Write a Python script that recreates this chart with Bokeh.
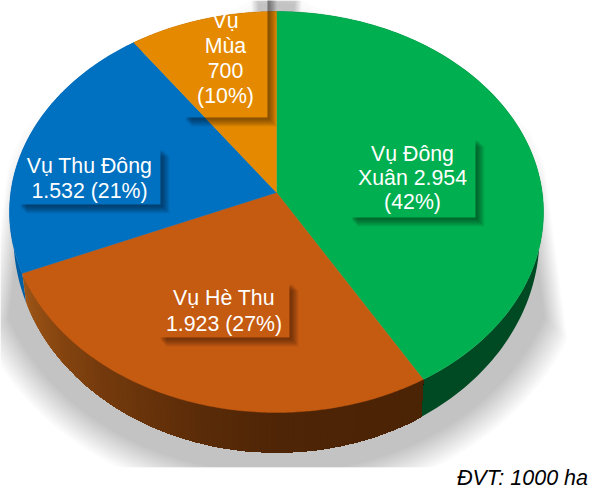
import numpy as np
from bokeh.plotting import figure
from bokeh.models import Range1d
from bokeh.core.properties import value
from bokeh.embed import file_html
from bokeh.resources import INLINE

# ---- data ----
seasons = ["Vụ Đông Xuân", "Vụ Hè Thu", "Vụ Thu Đông", "Vụ Mùa"]
areas = [2954, 1923, 1532, 700]
percents = [42, 27, 21, 10]
label_lines = [
    ["Vụ Đông", "Xuân 2.954", "(42%)"],
    ["Vụ Hè Thu", "1.923 (27%)"],
    ["Vụ Thu Đông", "1.532 (21%)"],
    ["Vụ", "Mùa", "700", "(10%)"],
]
unit_note = "ĐVT: 1000 ha"

# ---- styling ----
top_colors = ["#00B050", "#C55A11", "#0070C0", "#E58A00"]
FONT = "Liberation Sans"
FS = "21.3px"

# pie geometry (perspective ellipse)
CX, CY, RX, RY = 276.0, 211.5, 267.0, 200.5
BCY, BRX, BRY = 236.0, 263.0, 216.0
APEX = -19.5                 # screen offset of pie centre from ellipse centre
PC = -2 * APEX / (2 * RY)


def project(theta):
    sx, sy = np.sin(theta), np.cos(theta)
    den = 1 + PC * sy
    return RX * np.sqrt(1 - PC ** 2) * sx / den, (-RY * sy + APEX) / den


def top_pts(theta):
    u, v = project(theta)
    return CX + u, CY + v


def bottom_pts(theta):
    u, v = project(theta)
    return CX + u * BRX / RX, BCY + v * BRY / RY


p = figure(width=591, height=490, x_range=Range1d(0, 591), y_range=Range1d(490, 0),
           output_backend="svg", toolbar_location=None, min_border=0,
           outline_line_color=None)
p.xaxis.visible = False
p.yaxis.visible = False
p.grid.visible = False
p.background_fill_color = "white"
p.border_fill_color = "white"

# ---- soft ground shadow (stacked translucent ellipses, clipped) ----
phi = np.linspace(0, 2 * np.pi, 361)
clip_y = np.array([0, 100, 130, 163, 317, 490])
clip_x = np.array([300, 495, 527, 542, 562, 585]) - CX
layers = np.linspace(15, -15, 20)
alpha = 1 - 0.80 ** (1 / len(layers))
for k, d in enumerate(layers):
    sx = CX + (300 + d) * np.sin(phi)
    sy = 238 - (250 + d) * np.cos(phi)
    sy = np.minimum(sy, 467)
    frac = k / (len(layers) - 1)
    lim = np.interp(sy - 90 * frac, clip_y, clip_x) + 2 - 8 * frac
    sx = np.clip(sx, CX - lim, CX + lim)
    p.patch(sx, sy, fill_color="black", fill_alpha=alpha, line_color=None)

# ---- slices ----
total = sum(areas)
edges = np.concatenate([[0], np.cumsum(areas)]) / total * 2 * np.pi


def mix(x, stops_x, stops_c):
    return "#%02x%02x%02x" % tuple(int(round(np.interp(x, stops_x, [c[i] for c in stops_c]))) for i in range(3))


wall_stops = [
    ([0, 600], [(0, 74, 35), (0, 74, 35)]),
    ([22, 30, 60, 100, 150, 200, 276, 421],
     [(160, 86, 24), (150, 80, 20), (132, 68, 16), (116, 58, 13), (102, 50, 10), (90, 43, 8), (78, 37, 6), (75, 35, 5)]),
    ([0, 600], [(0, 95, 165), (0, 95, 165)]),
    ([0, 600], [(120, 70, 0), (120, 70, 0)]),
]

# painter's order, every strip reaches under the next one so no seams show
for i in [3, 2, 0]:
    th = np.linspace(edges[i], edges[i + 1], 120)
    xa, ya = top_pts(th)
    xb, yb = bottom_pts(th[::-1])
    p.patch(np.r_[xa, xb], np.r_[ya, yb], fill_color=mix(300, *wall_stops[i]), line_color=None)

i = 1
n = 90
th = np.linspace(edges[i], edges[i + 1], n + 1)
for k in range(n, 0, -1):
    sub = th[: k + 1]
    xa, ya = top_pts(sub)
    xb, yb = bottom_pts(sub[::-1])
    p.patch(np.r_[xa, xb], np.r_[ya, yb], fill_color=mix(xa[-1], *wall_stops[i]), line_color=None)

for i in range(len(areas)):
    th = np.linspace(edges[i], edges[i + 1], 150)
    tx, ty = top_pts(th)
    p.patch(np.r_[CX, tx], np.r_[CY + APEX, ty], fill_color=top_colors[i],
            line_color=top_colors[i], line_width=0.4)

# ---- data label boxes: only their drop shadow is visible ----
boxes = [(349, 138, 475, 217), (158, 282, 289, 337), (18, 148, 160, 204), (183, -12, 267, 117)]
text_cx = [412, 223.5, 89, 225]
text_ys = [[153, 177.5, 201.5], [297, 323], [165, 190], [20, 45, 70, 95]]

extents = [9, 8, 7, 6, 5, 4, 3, 2]
insets = [8, 7, 6, 5, 4, 3, 3, 2]
for (x0, y0, x1, y1) in boxes:
    for e, d in zip(extents, insets):
        p.patch([x1, x1 + e, x1 + e, x0 + d, x0 + d, x1],
                [y0 + d, y0 + d, y1 + e, y1 + e, y1, y1],
                fill_color="black", fill_alpha=0.06, line_color=None)

for lines, tx, ys in zip(label_lines, text_cx, text_ys):
    p.text(x=[tx] * len(lines), y=ys, text=lines, text_color="white",
           text_font=value(FONT), text_font_size=value(FS),
           text_align="center", text_baseline="middle")

p.text(x=[587.5], y=[477.5], text=[unit_note], text_color="black",
       text_font=value(FONT), text_font_size=value("21.5px"), text_font_style="italic",
       text_align="right", text_baseline="middle")

html = file_html(p, INLINE).replace("<body>", '<body style="margin:0">')
open("out.html", "w").write(html)
